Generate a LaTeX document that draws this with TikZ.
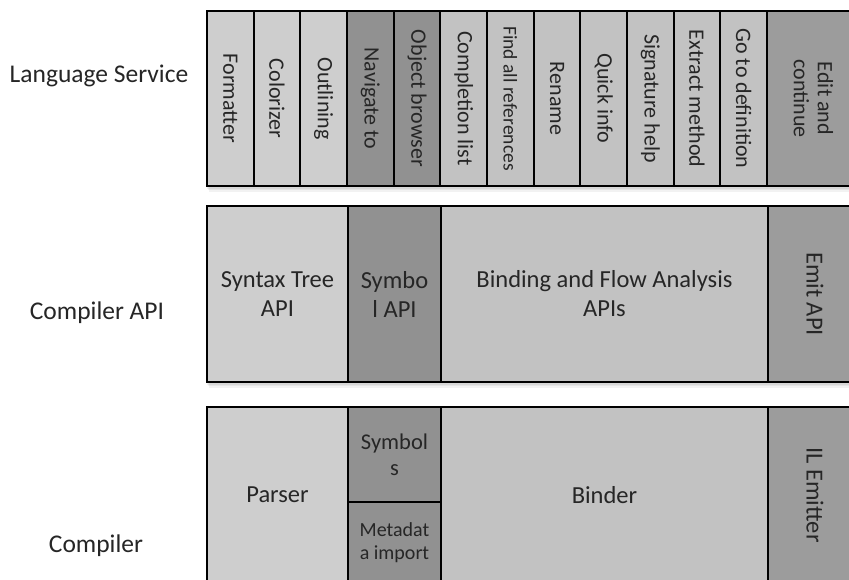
\documentclass[tikz,border=0pt]{standalone}
\usepackage{fontspec}
\setmainfont{Carlito}
\begin{document}
\begin{tikzpicture}[x=1pt, y=-1pt,
  every node/.style={text=txt, inner sep=0pt, outer sep=0pt},
  cell/.style={draw=black, line width=1.8pt, rectangle, align=center},
  paleA/.style={cell, fill=paleAc},
  paleB/.style={cell, fill=paleBc},
  deepA/.style={cell, fill=deepAc},
  deepB/.style={cell, fill=deepBc},
  vlab/.style={font=\fontsize{22}{24}\selectfont},
  hlab/.style={font=\fontsize{24.5}{29}\selectfont},
  side/.style={font=\fontsize{25.5}{30}\selectfont, anchor=center},
  shade/.style={fill=black, draw=none}
]
\definecolor{txt}{HTML}{262626}
\definecolor{paleAc}{HTML}{CECECE}
\definecolor{paleBc}{HTML}{C2C2C2}
\definecolor{deepAc}{HTML}{919191}
\definecolor{deepBc}{HTML}{9C9C9C}

\useasboundingbox (0,0) rectangle (849,579);
\fill[white] (0,0) rectangle (849,579);
\clip (0,0) rectangle (849,579);

% soft shadows under the three layers
\foreach \t/\b in {11/186, 206/382, 407/583}{
  \fill[shade, opacity=0.05] (209,\t+4) rectangle (870,\b+6);
  \fill[shade, opacity=0.05] (208,\t+3) rectangle (870,\b+4);
  \fill[shade, opacity=0.06] (207,\t+2) rectangle (870,\b+2.5);
}

% side labels
\node[side] (lsLabel) at (99,76) {Language Service};
\node[side] (apiLabel) at (97,313) {Compiler API};
\node[side] (compLabel) at (96,546) {Compiler};

% ---------- Language Service layer (11 -- 186) ----------
\foreach \name/\txt/\sty [count=\i from 0] in {
  fmt/Formatter/paleA, col/Colorizer/paleA, outl/Outlining/paleA,
  nav/Navigate to/deepA, obj/Object browser/deepA,
  cmpl/Completion list/paleB, find/{\fontsize{19.5}{21}\selectfont Find all references}/paleB,
  ren/Rename/paleB, qinfo/Quick info/paleB, sig/Signature help/paleB,
  extr/Extract method/paleB, gotodef/Go to definition/paleB}{
  \node[\sty, vlab, rotate=-90, minimum width=175pt, minimum height=46.67pt]
    (\name) at ({207+23.33+\i*46.67},98.5) {\txt};
}
\node[deepB, vlab, rotate=-90, minimum width=175pt, minimum height=93pt]
  (edit) at (813.5,98.5) {Edit and\\continue};

% ---------- Compiler API layer (206 -- 382) ----------
\node[paleA, hlab, minimum width=141pt, minimum height=176pt]
  (stree) at (277.5,294) {Syntax Tree\\API};
\node[deepA, hlab, minimum width=93pt, minimum height=176pt]
  (symapi) at (394.5,294) {Symbo\\l API};
\node[paleB, hlab, minimum width=327pt, minimum height=176pt]
  (bind) at (604.5,294) {Binding and Flow Analysis\\APIs};
\node[deepB, hlab, rotate=-90, minimum width=176pt, minimum height=94pt]
  (emit) at (815,294) {Emit API};

% ---------- Compiler layer (407 -- 583) ----------
\node[paleA, hlab, minimum width=141pt, minimum height=176pt]
  (parser) at (277.5,495) {Parser};
\node[deepA, font=\fontsize{22.5}{26}\selectfont, minimum width=93pt, minimum height=95pt]
  (syms) at (394.5,454.5) {Symbol\\s};
\node[deepA, font=\fontsize{20}{23}\selectfont, minimum width=93pt, minimum height=81pt]
  (meta) at (394.5,542.5) {Metadat\\a import};
\node[paleB, hlab, minimum width=327pt, minimum height=176pt]
  (binder) at (604.5,495) {Binder};
\node[deepB, hlab, rotate=-90, minimum width=176pt, minimum height=94pt]
  (ilemit) at (815,495) {IL Emitter};
\end{tikzpicture}
\end{document}
